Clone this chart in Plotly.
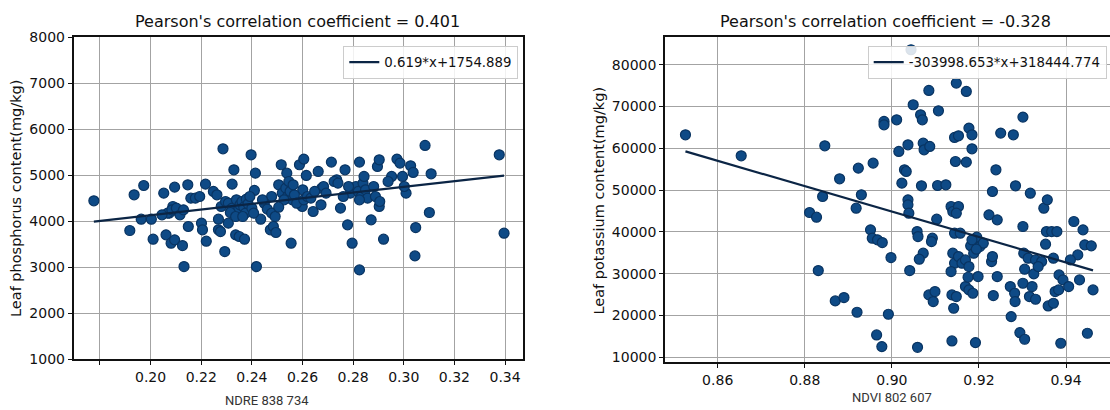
import plotly.graph_objects as go

# ---------------- data: left panel (NDRE 838 734 vs leaf phosphorus) ----------------
ndre_x = [0.1776, 0.1918, 0.1935, 0.1973, 0.1963, 0.2003, 0.2010, 0.2052, 0.2061, 0.2074,
          0.2088, 0.2095, 0.2081, 0.2095, 0.2109, 0.2126, 0.2132, 0.2147, 0.2149, 0.2159,
          0.2177, 0.2194, 0.2201, 0.2205, 0.2217, 0.2220, 0.2248, 0.2262, 0.2268, 0.2268,
          0.2276, 0.2286, 0.2293, 0.2307, 0.2322, 0.2329, 0.2336, 0.2350, 0.2371, 0.2397,
          0.2410, 0.2414, 0.2418, 0.2435, 0.2473, 0.2485, 0.2495, 0.2478, 0.2516, 0.2506,
          0.2538, 0.2555, 0.2588, 0.2605, 0.2615, 0.2601, 0.2599, 0.2642, 0.2662, 0.2676,
          0.2673, 0.2714, 0.2735, 0.2750, 0.2768, 0.2778, 0.2796, 0.2789, 0.2825, 0.2825,
          0.2871, 0.2896, 0.2903, 0.2903, 0.2920, 0.2952, 0.2973, 0.2985, 0.2995, 0.3009,
          0.3027, 0.3037, 0.3044, 0.3047, 0.3084, 0.3101, 0.3108, 0.3377, 0.3396,
          0.2279, 0.2296, 0.2307, 0.2322, 0.2329, 0.2339, 0.2347, 0.2353, 0.2361, 0.2368,
          0.2378, 0.2375, 0.2385, 0.2315, 0.2336, 0.2364, 0.2392, 0.2400, 0.2407,
          0.2520, 0.2534, 0.2541, 0.2551, 0.2560, 0.2568, 0.2546, 0.2527, 0.2577, 0.2563,
          0.2811, 0.2820, 0.2832, 0.2839, 0.2849, 0.2857, 0.2825, 0.2843,
          0.2449, 0.2461, 0.2442, 0.2478, 0.2492, 0.2506, 0.2605, 0.2619, 0.2633, 0.2648,
          0.2683, 0.2693, 0.2725, 0.2740, 0.2761, 0.2782, 0.2881, 0.2888, 0.2905, 0.2938,
          0.3002,
          0.2067, 0.2084, 0.2102, 0.2116, 0.2130, 0.2045]
phosphorus_y = [4442, 3797, 4572, 4775, 4043, 4043, 3609, 4609, 3703, 4174,
                4319, 4739, 3522, 3594, 4210, 3471, 3014, 4790, 3884, 4500,
                4500, 4536, 3957, 3812, 4804, 3565, 4645, 4572, 4043, 3812,
                3775, 5572, 3340, 3957, 4804, 5116, 3703, 3667, 3609, 5442,
                4667, 5043, 3014, 4043, 3812, 3884, 3754, 4536, 5225, 4790,
                5043, 3522, 5225, 5348, 4993, 4681, 4319, 4210, 5080, 4717,
                4355, 5283, 4899, 4283, 5116, 3920, 3522, 4609, 5283, 2942,
                4029, 5188, 5333, 4319, 3609, 4971, 5348, 5261, 4971, 4609,
                5203, 5058, 3246, 3862, 5645, 4188, 5029, 5442, 3739,
                4319, 4427, 4391, 4283, 4174, 4464, 4246, 4355, 4427, 4304,
                4478, 4174, 4377, 4188, 4101, 4101, 4536, 4283, 4174,
                4609, 4717, 4536, 4645, 4464, 4572, 4862, 4464, 4391, 4790,
                4753, 4645, 4536, 4826, 4681, 4500, 4464, 4971,
                4391, 4261, 4464, 4174, 4101, 4304, 4464, 4536, 4500, 4645,
                4753, 4609, 4862, 4826, 4536, 4753, 4753, 4536, 4427, 4862,
                4753,
                4174, 4246, 4283, 4137, 4246, 4137]
left_fit_label = "0.619*x+1754.889"
left_fit_y = [3990, 4990]          # fitted line value at min(x) and max(x)
left_title = "Pearson's correlation coefficient = 0.401"
left_xlabel = "NDRE 838 734"
left_ylabel = "Leaf phosphorus content(mg/kg)"
left_xticks = [0.18, 0.20, 0.22, 0.24, 0.26, 0.28, 0.30, 0.32, 0.34]
left_xticktext = ["", "0.20", "0.22", "0.24", "0.26", "0.28", "0.30", "0.32", "0.34"]

# ---------------- data: right panel (NDVI 802 607 vs leaf potassium) ----------------
ndvi_x = [0.8526, 0.8654, 0.8846, 0.8841, 0.8880, 0.8811, 0.8827, 0.8831, 0.8870, 0.8890,
          0.8918, 0.8923, 0.8930, 0.8920, 0.8957, 0.8951, 0.8955, 0.8967, 0.8978, 0.8965,
          0.8977, 0.8982, 0.8982, 0.8992, 0.8998, 0.9011, 0.9016, 0.9023, 0.9029, 0.9033,
          0.9037, 0.9037, 0.9037, 0.9039, 0.9041, 0.9049, 0.9066, 0.9070, 0.9058, 0.9060,
          0.9072, 0.9063, 0.9059, 0.9068, 0.9072, 0.9074, 0.9087, 0.9085, 0.9093, 0.9091,
          0.9085, 0.9095, 0.9099, 0.9105, 0.9107, 0.9103, 0.9124, 0.9136, 0.9140, 0.9153,
          0.9148, 0.9144, 0.9146, 0.9148, 0.9171, 0.9144, 0.9153, 0.9171, 0.9177, 0.9184,
          0.9184, 0.9140, 0.9144, 0.9153, 0.9161, 0.9169, 0.9177, 0.9157, 0.9136, 0.9138,
          0.9148, 0.9142, 0.9138, 0.9169, 0.9177, 0.9186, 0.9175, 0.9198, 0.9192, 0.9181,
          0.9190, 0.9195, 0.9202, 0.9210, 0.9188, 0.9223, 0.9229, 0.9231, 0.9231, 0.9233,
          0.9239, 0.9242, 0.9242, 0.9250, 0.9279, 0.9284, 0.9301, 0.9301, 0.9272, 0.9282,
          0.9283, 0.9274, 0.9294, 0.9305, 0.9301, 0.9305, 0.9303, 0.9313, 0.9322, 0.9326,
          0.9316, 0.9330, 0.9318, 0.9353, 0.9330, 0.9344, 0.9336, 0.9359, 0.9371, 0.9355,
          0.9367, 0.9349, 0.9357, 0.9371, 0.9375, 0.9383, 0.9379, 0.9388, 0.9384, 0.9393,
          0.9406, 0.9418, 0.9427, 0.9431, 0.9439, 0.9443, 0.9458, 0.9449, 0.9462, 0.9410,
          0.9044, 0.9194, 0.9184]
potassium_y = [63227, 58199, 60593, 48463, 52693, 44633, 43516, 30748, 23486, 24284,
               45671, 55247, 48863, 20773, 56444, 40484, 38489, 38090, 37452, 15347,
               12554, 66419, 65620, 20294, 33860, 66818, 59237, 51655, 54847, 54448,
               60832, 47665, 46468, 44473, 30748, 70409, 68015, 66818, 40085, 38888,
               34898, 33461, 12394, 51017, 61231, 59636, 60433, 73840, 38489, 37691,
               24922, 23326, 25720, 51097, 68972, 43037, 51256, 46069, 44872, 46069,
               44473, 39686, 56843, 75596, 73601, 62588, 62987, 56683, 64822, 63227,
               59876, 34898, 32504, 34100, 32504, 33302, 31706, 39686, 30508, 24922,
               24524, 21730, 13910, 26918, 26120, 25322, 29152, 29311, 13511, 36654,
               38090, 38728, 36494, 37292, 34898, 44074, 32903, 34100, 49661, 24763,
               54847, 42878, 29311, 63626, 63227, 51017, 67456, 41282, 26918, 25322,
               23326, 19735, 15905, 14309, 27716, 31067, 34898, 33700, 26918, 29950,
               24524, 23885, 49262, 37052, 33302, 32903, 31706, 22289, 22927, 40085,
               40085, 45671, 47665, 33700, 25720, 26120, 40085, 13352, 29710, 28513,
               26918, 42479, 34499, 28513, 40484, 36893, 36654, 15746, 26120, 33302,
               83576, 35856, 38090]
right_slope = -303998.653
right_intercept = 318444.774
right_fit_label = "-303998.653*x+318444.774"
right_title = "Pearson's correlation coefficient = -0.328"
right_xlabel = "NDVI 802 607"
right_ylabel = "Leaf potassium content(mg/kg)"

# ---------------- styles ----------------
W, H = 1110, 410
FONT = "DejaVu Sans"
DOT_FILL = "#0e4a86"
DOT_EDGE = "#093462"
LINE_COL = "#0b2545"
GRID = "#a3a3a3"


def px_x(p):
    return p / W


def px_y(p):
    return 1 - p / H


left_fit_x = [min(ndre_x), max(ndre_x)]
right_fit_x = [min(ndvi_x), max(ndvi_x)]
right_fit_y = [right_slope * v + right_intercept for v in right_fit_x]

fig = go.Figure()

marker = dict(size=10, color=DOT_FILL, line=dict(color=DOT_EDGE, width=1.2))

fig.add_trace(go.Scatter(x=ndre_x, y=phosphorus_y, mode="markers", marker=marker,
                         showlegend=False, xaxis="x", yaxis="y"))
fig.add_trace(go.Scatter(x=left_fit_x, y=left_fit_y, mode="lines",
                         line=dict(color=LINE_COL, width=2.2), name=left_fit_label,
                         xaxis="x", yaxis="y", legend="legend"))
fig.add_trace(go.Scatter(x=ndvi_x, y=potassium_y, mode="markers", marker=marker,
                         showlegend=False, xaxis="x2", yaxis="y2"))
fig.add_trace(go.Scatter(x=right_fit_x, y=right_fit_y, mode="lines",
                         line=dict(color=LINE_COL, width=2.2), name=right_fit_label,
                         xaxis="x2", yaxis="y2", legend="legend2"))

axis_common = dict(showline=True, linecolor="#111111", linewidth=1.6,
                   showgrid=True, gridcolor=GRID, gridwidth=1.2,
                   zeroline=False, ticks="outside", ticklen=4, tickwidth=1.2,
                   tickcolor="#111111", automargin=False,
                   tickfont=dict(family=FONT, size=14, color="#111111"))

fig.update_layout(
    width=W, height=H,
    margin=dict(l=0, r=0, t=0, b=0),
    paper_bgcolor="white", plot_bgcolor="white",
    font=dict(family=FONT, color="#111111"),
    xaxis=dict(axis_common, domain=[px_x(73.6), px_x(523.3)], range=[0.1696, 0.3472],
               tickvals=left_xticks, ticktext=left_xticktext, mirror=True, anchor="y"),
    yaxis=dict(axis_common, domain=[px_y(359.3), px_y(37)], range=[1000, 8000],
               dtick=1000, tick0=0, tickformat="d", mirror=True, anchor="x"),
    xaxis2=dict(axis_common, domain=[px_x(665), 1.0], range=[0.8479, 0.9501],
                dtick=0.02, tick0=0.0, tickformat=".2f", mirror=True, anchor="y2"),
    yaxis2=dict(axis_common, domain=[px_y(362.3), px_y(37.3)], range=[8800, 86550],
                dtick=10000, tick0=0, tickformat="d", mirror=False, anchor="x2"),
    legend=dict(x=px_x(518.3), y=px_y(46), xanchor="right", yanchor="top",
                bgcolor="rgba(255,255,255,0.85)", bordercolor="#cccccc", borderwidth=1,
                font=dict(family=FONT, size=13.3, color="#111111")),
    legend2=dict(x=px_x(1106.7), y=px_y(46), xanchor="right", yanchor="top",
                 bgcolor="rgba(255,255,255,0.85)", bordercolor="#cccccc", borderwidth=1,
                 font=dict(family=FONT, size=13.3, color="#111111")),
)

annotations = [
    dict(text=left_title, x=px_x(297), y=px_y(21), font=dict(family=FONT, size=16)),
    dict(text=right_title, x=px_x(885), y=px_y(21), font=dict(family=FONT, size=16)),
    dict(text=left_xlabel, x=px_x(266.5), y=px_y(400),
         font=dict(family="Roboto", size=13, color="#333333")),
    dict(text=right_xlabel, x=px_x(891.7), y=px_y(397.5),
         font=dict(family="Roboto", size=13, color="#333333")),
    dict(text=left_ylabel, x=px_x(16), y=px_y(199), textangle=-90,
         font=dict(family=FONT, size=14.5)),
    dict(text=right_ylabel, x=px_x(599), y=px_y(200.6), textangle=-90,
         font=dict(family=FONT, size=14.5)),
]
for a in annotations:
    a.update(xref="paper", yref="paper", xanchor="center", yanchor="middle",
             showarrow=False)
fig.update_layout(annotations=annotations)

fig.write_html("out.html")
